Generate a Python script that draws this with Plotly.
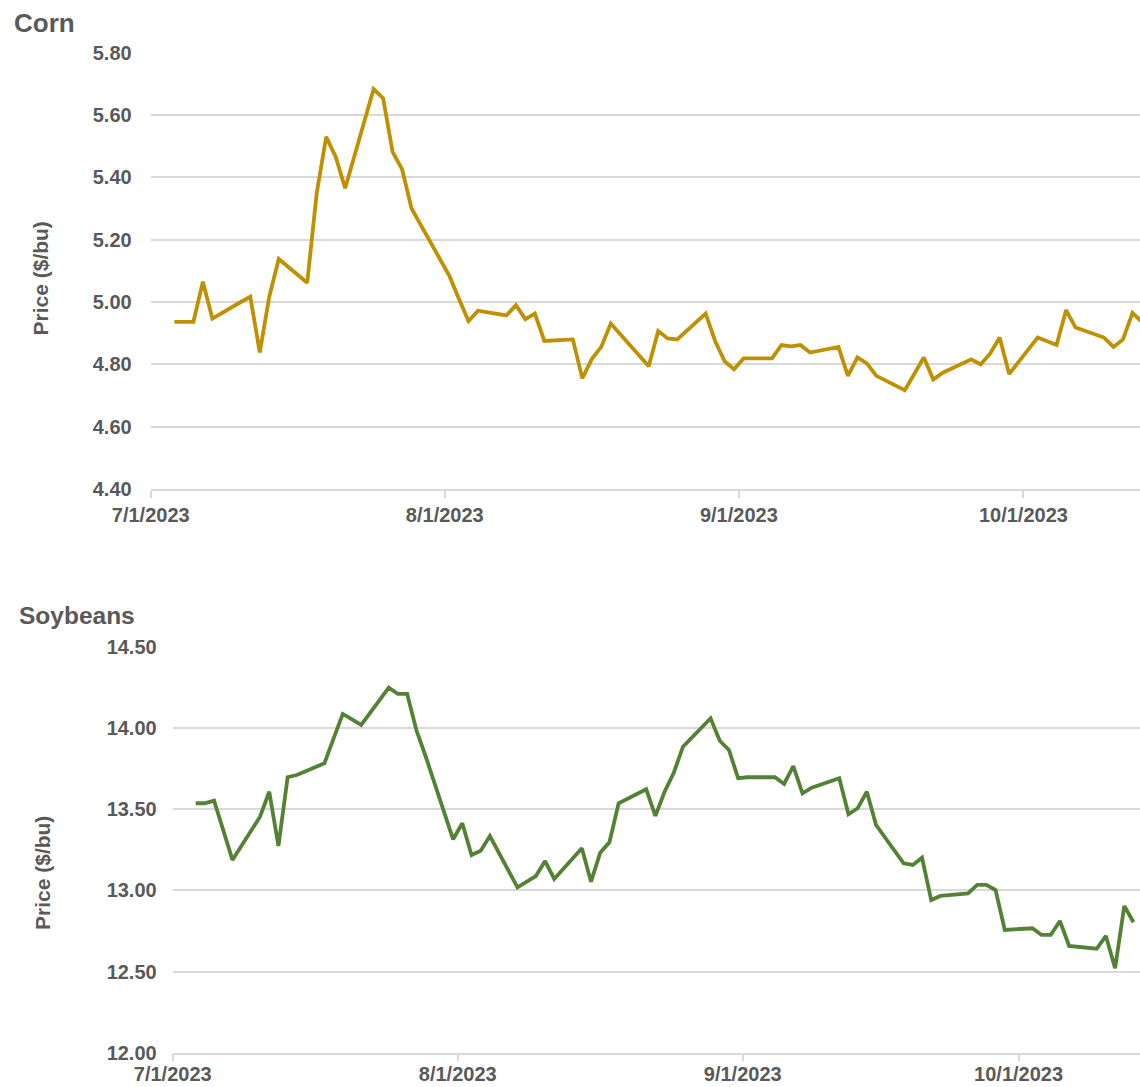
import pandas as pd
import plotly.graph_objects as go

# ---------------- data ----------------
corn_dates = ["2023-07-03", "2023-07-04", "2023-07-05", "2023-07-06", "2023-07-07",
              "2023-07-10", "2023-07-11", "2023-07-12", "2023-07-13", "2023-07-14",
              "2023-07-17", "2023-07-18", "2023-07-19", "2023-07-20", "2023-07-21",
              "2023-07-24", "2023-07-25", "2023-07-26", "2023-07-27", "2023-07-28",
              "2023-07-31", "2023-08-01", "2023-08-02", "2023-08-03", "2023-08-04",
              "2023-08-07", "2023-08-08", "2023-08-09", "2023-08-10", "2023-08-11",
              "2023-08-14", "2023-08-15", "2023-08-16", "2023-08-17", "2023-08-18",
              "2023-08-21", "2023-08-22", "2023-08-23", "2023-08-24", "2023-08-25",
              "2023-08-28", "2023-08-29", "2023-08-30", "2023-08-31", "2023-09-01",
              "2023-09-04", "2023-09-05", "2023-09-06", "2023-09-07", "2023-09-08",
              "2023-09-11", "2023-09-12", "2023-09-13", "2023-09-14", "2023-09-15",
              "2023-09-18", "2023-09-19", "2023-09-20", "2023-09-21", "2023-09-22",
              "2023-09-25", "2023-09-26", "2023-09-27", "2023-09-28", "2023-09-29",
              "2023-10-02", "2023-10-03", "2023-10-04", "2023-10-05", "2023-10-06",
              "2023-10-09", "2023-10-10", "2023-10-11", "2023-10-12", "2023-10-13"]
corn_prices = [4.936, 4.936, 4.936, 5.065, 4.947,
               5.000, 5.017, 4.838, 5.017, 5.138,
               5.062, 5.349, 5.530, 5.466, 5.365,
               5.683, 5.654, 5.482, 5.426, 5.300,
               5.136, 5.083, 5.010, 4.939, 4.972,
               4.957, 4.990, 4.945, 4.963, 4.875,
               4.880, 4.755, 4.817, 4.856, 4.931,
               4.830, 4.794, 4.907, 4.883, 4.880,
               4.963, 4.875, 4.810, 4.784, 4.819,
               4.819, 4.862, 4.858, 4.862, 4.838,
               4.856, 4.763, 4.822, 4.803, 4.763,
               4.717, 4.770, 4.822, 4.751, 4.773,
               4.816, 4.800, 4.835, 4.886, 4.769,
               4.886, 4.874, 4.862, 4.974, 4.918,
               4.886, 4.856, 4.880, 4.965, 4.936]

soy_dates = corn_dates
soy_prices = [13.536, 13.536, 13.552, 13.371, 13.187,
              13.453, 13.607, 13.273, 13.696, 13.710,
              13.782, 13.936, 14.086, 14.052, 14.018,
              14.248, 14.209, 14.209, 13.987, 13.827,
              13.314, 13.413, 13.217, 13.244, 13.334,
              13.018, 13.053, 13.088, 13.180, 13.070,
              13.259, 13.053, 13.232, 13.296, 13.536,
              13.622, 13.458, 13.607, 13.724, 13.884,
              14.059, 13.921, 13.864, 13.690, 13.696,
              13.696, 13.655, 13.765, 13.597, 13.632,
              13.690, 13.468, 13.505, 13.607, 13.402,
              13.166, 13.156, 13.201, 12.940, 12.965,
              12.981, 13.033, 13.033, 13.002, 12.756,
              12.766, 12.725, 12.725, 12.811, 12.657,
              12.640, 12.719, 12.520, 12.903, 12.803]

corn_title = "Corn"
soy_title = "Soybeans"
y_label = "Price ($/bu)"
corn_yticks = [4.40, 4.60, 4.80, 5.00, 5.20, 5.40, 5.60, 5.80]
soy_yticks = [12.00, 12.50, 13.00, 13.50, 14.00, 14.50]

# ---------------- styling ----------------
W, H = 1140, 1087
TXT = "#595959"
GRID = "#d9d9d9"
FONT = "Liberation Sans, Arial, sans-serif"
CORN_COLOR = "#BF9000"
SOY_COLOR = "#548235"

# Excel-style date axis: each daily point sits in the middle of its day
corn_x = pd.to_datetime(corn_dates) + pd.Timedelta(hours=12)
soy_x = pd.to_datetime(soy_dates) + pd.Timedelta(hours=12)

fig = go.Figure()
fig.add_trace(go.Scatter(x=corn_x, y=corn_prices, mode="lines",
                         line=dict(color=CORN_COLOR, width=3.8),
                         xaxis="x", yaxis="y", showlegend=False, cliponaxis=True))
fig.add_trace(go.Scatter(x=soy_x, y=soy_prices, mode="lines",
                         line=dict(color=SOY_COLOR, width=3.8),
                         xaxis="x2", yaxis="y2", showlegend=False, cliponaxis=True))

def xax(domain, rng, anchor, standoff=0):
    return dict(domain=domain, range=rng, anchor=anchor, type="date",
                tick0="2023-07-01", dtick="M1", tickformat="%-m/%-d/%Y",
                showgrid=False, showline=True, linecolor=GRID, linewidth=1.5,
                ticks="outside", ticklen=7, tickwidth=1.5, tickcolor=GRID,
                ticklabelstandoff=standoff,
                tickfont=dict(family=FONT, size=20, color=TXT, weight="bold"),
                zeroline=False, fixedrange=True, automargin=False)

def yax(domain, rng, ticks, anchor, standoff):
    return dict(domain=domain, range=rng, anchor=anchor,
                tickmode="array", tickvals=ticks,
                ticktext=[f"{t:.2f}" for t in ticks],
                showgrid=True, gridcolor=GRID, gridwidth=1.5,
                showline=False, zeroline=False, ticks="",
                ticklabelstandoff=standoff,
                tickfont=dict(family=FONT, size=20, color=TXT, weight="bold"),
                fixedrange=True, automargin=False)

fig.update_layout(
    template="none",
    width=W, height=H,
    margin=dict(l=0, r=0, t=0, b=0, pad=0, autoexpand=False),
    paper_bgcolor="white", plot_bgcolor="white",
    xaxis=xax([150.7 / W, 1.0], ["2023-07-01", "2023-10-13 07:00"], "y"),
    yaxis=yax([1 - 489.0 / H, 1 - 52.7 / H], [4.40, 5.80], corn_yticks, "x", 18),
    xaxis2=xax([172.7 / W, 1.0], ["2023-07-01", "2023-10-14 05:00"], "y2", -4),
    yaxis2=yax([1 - 1052.7 / H, 1 - 646.7 / H], [12.00, 14.50], soy_yticks, "x2", 15),
)

annots = [
    dict(text=corn_title, x=12 / W, y=1 - 23 / H, xanchor="left", yanchor="middle",
         font=dict(family=FONT, size=26, color=TXT, weight="bold")),
    dict(text=soy_title, x=16.5 / W, y=1 - 615 / H, xanchor="left", yanchor="middle",
         font=dict(family=FONT, size=24.5, color=TXT, weight="bold")),
    dict(text=y_label, x=40.5 / W, y=1 - 279 / H, xanchor="center", yanchor="middle",
         textangle=-90, font=dict(family=FONT, size=21, color=TXT, weight="bold")),
    dict(text=y_label, x=42 / W, y=1 - 873 / H, xanchor="center", yanchor="middle",
         textangle=-90, font=dict(family=FONT, size=21, color=TXT, weight="bold")),
]
for a in annots:
    a.update(xref="paper", yref="paper", showarrow=False)
fig.update_layout(annotations=annots)

fig.write_html(
    "out.html",
    config={"displayModeBar": False},
    post_script="document.body.style.margin='0';document.body.style.overflow='hidden';",
)
